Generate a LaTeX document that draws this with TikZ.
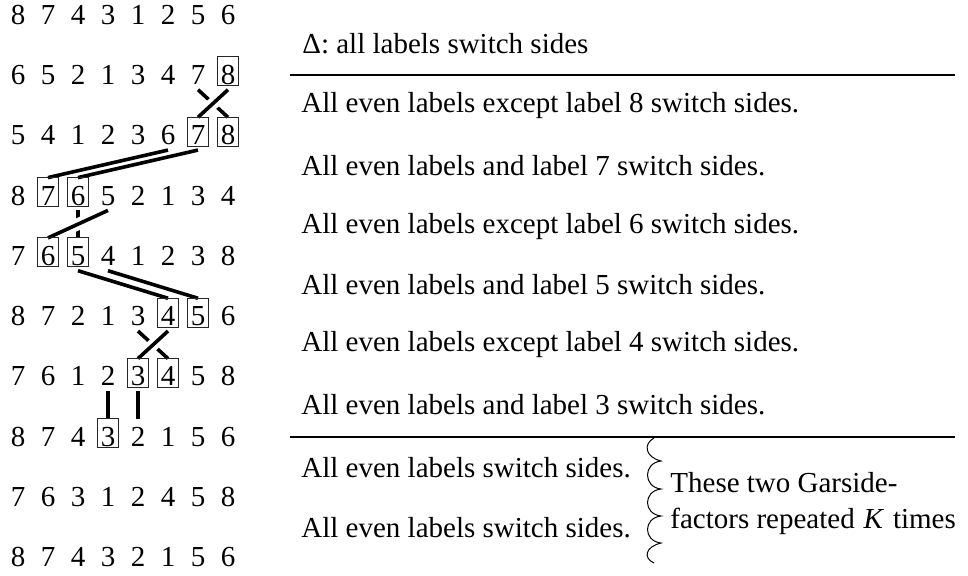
\documentclass[tikz,border=0pt]{standalone}
\usepackage{fontspec}
\setmainfont{Liberation Serif}
\usetikzlibrary{calc}

\begin{document}
\begin{tikzpicture}[x=0.5pt,y=-0.5pt,
	every node/.style={font=\fontsize{14.5}{17}\selectfont, inner sep=0pt},
	digit/.style={inner xsep=1.6pt, text height=13.5pt, text depth=0.5pt, anchor=base},
	rowtext/.style={anchor=base west},
	move/.style={line width=1.8pt},
	gap/.style={draw=white, line width=6pt},
	digbox/.style={draw=black!85, line width=0.5pt},
	rule/.style={line width=0.6pt}]
	\useasboundingbox (0,0) rectangle (968,575);
	% Sequences
	\foreach \seq [count=\i] in {{8,7,4,3,1,2,5,6},{6,5,2,1,3,4,7,8},{5,4,1,2,3,6,7,8},{8,7,6,5,2,1,3,4},{7,6,5,4,1,2,3,8},{8,7,2,1,3,4,5,6},{7,6,1,2,3,4,5,8},{8,7,4,3,2,1,5,6},{7,6,3,1,2,4,5,8},{8,7,4,3,2,1,5,6}}
		\foreach \d [count=\j] in \seq
			\node[digit] (r\i-\j) at ({18+30*(\j-1)},{24+60.33*(\i-1)}) {\d};
	% 8 <-> 7
	\draw[move] ([yshift=-2pt]r2-7.south) -- (r3-8.north);
	\path[gap] ($([yshift=-2pt]r2-8.south)!0.3!(r3-7.north)$) -- ($([yshift=-2pt]r2-8.south)!0.7!(r3-7.north)$);
	\draw[move] ([yshift=-2pt]r2-8.south) -- (r3-7.north);
	% 7,6 to the left
	\draw[move] ([yshift=-2pt]r3-6.south) -- (r4-2.north);
	\draw[move] ([yshift=-2pt]r3-7.south) -- (r4-3.north);
	% 6 <-> 5
	\draw[move] ([yshift=-2pt]r4-3.south) -- (r5-3.north);
	\path[gap] ($([yshift=-2pt]r4-4.south)!0.3!(r5-2.north)$) -- ($([yshift=-2pt]r4-4.south)!0.7!(r5-2.north)$);
	\draw[move] ([yshift=-2pt]r4-4.south) -- (r5-2.north);
	% 5,4 to the right
	\draw[move] ([yshift=-2pt]r5-3.south) -- (r6-6.north);
	\draw[move] ([yshift=-2pt]r5-4.south) -- (r6-7.north);
	% 4 <-> 3
	\draw[move] ([yshift=-2pt]r6-5.south) -- (r7-6.north);
	\path[gap] ($([yshift=-2pt]r6-6.south)!0.3!(r7-5.north)$) -- ($([yshift=-2pt]r6-6.south)!0.7!(r7-5.north)$);
	\draw[move] ([yshift=-2pt]r6-6.south) -- (r7-5.north);
	% 3 down
	\draw[move] ([yshift=-2pt]r7-4.south) -- (r8-4.north);
	\draw[move] ([yshift=-2pt]r7-5.south) -- (r8-5.north);
	% Boxes
	\foreach \n in {r2-8,r3-7,r3-8,r4-2,r4-3,r5-2,r5-3,r6-6,r6-7,r7-5,r7-6,r8-4}
		\draw[digbox] (\n.south west) rectangle (\n.north east);
	% Garside factors
	\node[rowtext] (delta) at (302,53) {Δ: all labels switch sides};
	\coordinate (ruleA) at (290,75);
	\coordinate (ruleB) at (955,75);
	\draw[rule] (ruleA) -- (ruleB);
	\node[rowtext] (f8) at (301,112) {All even labels except label 8 switch sides.};
	\node[rowtext] (f7) at (301,175) {All even labels and label 7 switch sides.};
	\node[rowtext] (f6) at (301,233) {All even labels except label 6 switch sides.};
	\node[rowtext] (f5) at (301,294) {All even labels and label 5 switch sides.};
	\node[rowtext] (f4) at (301,351) {All even labels except label 4 switch sides.};
	\node[rowtext] (f3) at (301,414) {All even labels and label 3 switch sides.};
	\coordinate (ruleC) at (290,437);
	\coordinate (ruleD) at (955,437);
	\draw[rule] (ruleC) -- (ruleD);
	\node[rowtext] (fa) at (301,477) {All even labels switch sides.};
	\node[rowtext] (fb) at (301,537) {All even labels switch sides.};
	% Wavy brace
	\draw[line width=0.5pt] (654,438) .. controls (643,444) and (645,457) .. (661,461)
		.. controls (643,463) and (643,487) .. (661,489)
		.. controls (643,491) and (643,514) .. (661,516)
		.. controls (643,518) and (643,541) .. (661,543)
		.. controls (645,547) and (643,558) .. (654,563);
	\node[rowtext] (note1) at (670,492) {These two Garside-};
	\node[rowtext] (note2) at (670,528) {factors repeated\kern0.8pt\ \textit{K}\kern0.8pt\ times};
\end{tikzpicture}
\end{document}
